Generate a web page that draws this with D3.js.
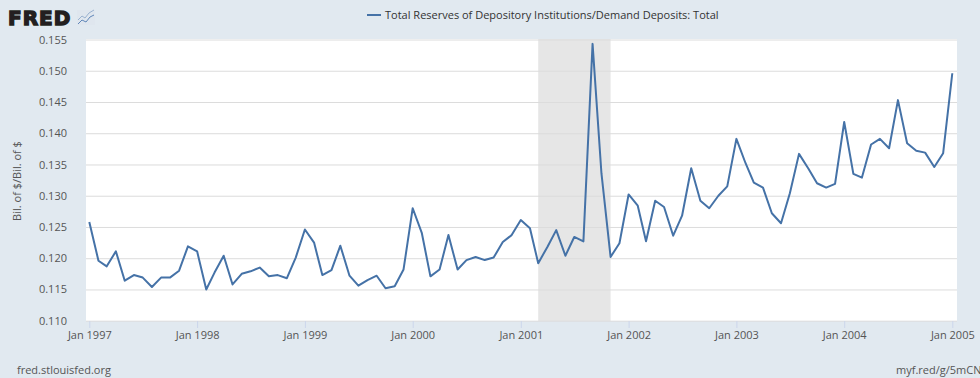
<!DOCTYPE html>
<html>
<head>
<meta charset="utf-8">
<script src="https://cdn.jsdelivr.net/npm/d3@7"></script>
<style>
	body { margin: 0; background: #e1e9f0; }
	svg { display: block; font-family: "Open Sans", sans-serif; }
</style>
</head>
<body>
<svg id="chart" width="980" height="378"></svg>
<script>
// monthly observations, Jan 1997 .. Jan 2005
var startMonth = "1997-01";
var ratioValues = [
	0.1258, 0.1196, 0.1187, 0.1211, 0.1164, 0.1173, 0.1169, 0.1154, 0.1169, 0.1169, 0.1180, 0.1219,
	0.1211, 0.1150, 0.1177, 0.1204, 0.1158, 0.1175, 0.1179, 0.1185, 0.1171, 0.1173, 0.1168, 0.1201,
	0.1246, 0.1225, 0.1173, 0.1181, 0.1220, 0.1172, 0.1156, 0.1165, 0.1172, 0.1152, 0.1155, 0.1182,
	0.1280, 0.1240, 0.1171, 0.1182, 0.1237, 0.1182, 0.1197, 0.1202, 0.1197, 0.1201, 0.1226, 0.1237,
	0.1261, 0.1248, 0.1192, 0.1218, 0.1245, 0.1204, 0.1234, 0.1227, 0.1543, 0.1336, 0.1202, 0.1224,
	0.1302, 0.1284, 0.1227, 0.1292, 0.1282, 0.1236, 0.1268, 0.1344, 0.1292, 0.1280, 0.1300, 0.1315,
	0.1391, 0.1352, 0.1321, 0.1313, 0.1272, 0.1256, 0.1304, 0.1367, 0.1344, 0.1320, 0.1313, 0.1319,
	0.1418, 0.1335, 0.1329, 0.1382, 0.1391, 0.1376, 0.1453, 0.1384, 0.1372, 0.1369, 0.1346, 0.1368,
	0.1496
];
var yTicks = [0.110, 0.115, 0.120, 0.125, 0.130, 0.135, 0.140, 0.145, 0.150, 0.155];
var xTickYears = [1997, 1998, 1999, 2000, 2001, 2002, 2003, 2004, 2005];
var recessions = [["2001-03", "2001-11"]];

var seriesTitle = "Total Reserves of Depository Institutions/Demand Deposits: Total";
var yAxisTitle = "Bil. of $/Bil. of $";

var parseMonth = d3.timeParse("%Y-%m");
var svg = d3.select("#chart");

var plot = {left: 86, right: 957, top: 39, bottom: 321};

var start = parseMonth(startMonth);
var data = ratioValues.map(function (v, i) {
	return {date: d3.timeMonth.offset(start, i), value: v};
});

var x = d3.scaleTime()
	.domain([data[0].date, data[data.length - 1].date])
	.range([89.3, 952.3]);
var y = d3.scaleLinear()
	.domain([0.110, 0.155])
	.range([320.7, 39.5]);

// plot background
svg.append("rect")
	.attr("x", plot.left)
	.attr("y", plot.top)
	.attr("width", plot.right - plot.left)
	.attr("height", plot.bottom - plot.top)
	.attr("fill", "#ffffff");

// recession shading
svg.selectAll("rect.recession")
	.data(recessions)
	.enter().append("rect")
	.attr("class", "recession")
	.attr("x", function (d) { return x(parseMonth(d[0])); })
	.attr("y", plot.top)
	.attr("width", function (d) { return x(parseMonth(d[1])) - x(parseMonth(d[0])); })
	.attr("height", plot.bottom - plot.top)
	.attr("fill", "#e6e6e6");

// horizontal grid + y labels
var yAxis = d3.axisLeft(y)
	.tickValues(yTicks)
	.tickSize(-(plot.right - plot.left))
	.tickPadding(19)
	.tickFormat(d3.format(".3f"));
var gy = svg.append("g")
	.attr("transform", "translate(" + plot.left + ",0)")
	.call(yAxis);
gy.select(".domain").remove();
gy.selectAll(".tick line").attr("stroke", "#dcdcdc").attr("stroke-width", 1);
gy.selectAll(".tick text")
	.attr("fill", "#555")
	.attr("font-size", "11px")
	.attr("font-family", "Open Sans, sans-serif");

// x axis
var xAxis = d3.axisBottom(x)
	.tickValues(xTickYears.map(function (yr) { return new Date(yr, 0, 1); }))
	.tickSize(7)
	.tickPadding(3)
	.tickFormat(d3.timeFormat("Jan %Y"));
var gx = svg.append("g")
	.attr("transform", "translate(0," + plot.bottom + ")")
	.call(xAxis);
gx.select(".domain").remove();
gx.selectAll(".tick line").attr("stroke", "#ccd6eb");
gx.selectAll(".tick text")
	.attr("fill", "#555")
	.attr("font-size", "11px")
	.attr("font-family", "Open Sans, sans-serif");

// series line
var line = d3.line()
	.x(function (d) { return x(d.date); })
	.y(function (d) { return y(d.value); });
svg.append("path")
	.datum(data)
	.attr("d", line)
	.attr("fill", "none")
	.attr("stroke", "#4572a7")
	.attr("stroke-width", 2)
	.attr("stroke-linejoin", "round");

// y axis title
svg.append("text")
	.attr("transform", "translate(21,181) rotate(-90)")
	.attr("text-anchor", "middle")
	.attr("font-size", "11px")
	.attr("fill", "#555")
	.text(yAxisTitle);

// legend
svg.append("line")
	.attr("x1", 367).attr("x2", 381)
	.attr("y1", 15).attr("y2", 15)
	.attr("stroke", "#4572a7")
	.attr("stroke-width", 2);
svg.append("text")
	.attr("x", 385)
	.attr("y", 19)
	.attr("font-size", "11px")
	.attr("fill", "#333")
	.text(seriesTitle);

// FRED logo
var logo = svg.append("g");
logo.append("text")
	.attr("x", 8)
	.attr("y", 25)
	.attr("font-family", "DejaVu Sans, sans-serif")
	.attr("font-weight", "bold")
	.attr("font-size", "20px")
	.attr("letter-spacing", "1px")
	.attr("fill", "#231f20")
	.attr("stroke", "#231f20")
	.attr("stroke-width", 1.4)
	.text("FRED");
logo.append("rect")
	.attr("x", 77).attr("y", 10)
	.attr("width", 18).attr("height", 15)
	.attr("fill", "#dfe6ee");
logo.append("polyline")
	.attr("points", "78,20 82,16 85,18 89,13 94,10")
	.attr("fill", "none").attr("stroke", "#9ab2d0").attr("stroke-width", 1);
logo.append("polyline")
	.attr("points", "78,24 82,20 86,22 90,17 94,15")
	.attr("fill", "none").attr("stroke", "#5f86b8").attr("stroke-width", 1);

// footer
svg.append("text")
	.attr("x", 17)
	.attr("y", 374)
	.attr("font-size", "11px")
	.attr("fill", "#555")
	.text("fred.stlouisfed.org");
svg.append("text")
	.attr("x", 896)
	.attr("y", 374)
	.attr("font-size", "11px")
	.attr("fill", "#555")
	.text("myf.red/g/5mCN");
</script>
</body>
</html>
